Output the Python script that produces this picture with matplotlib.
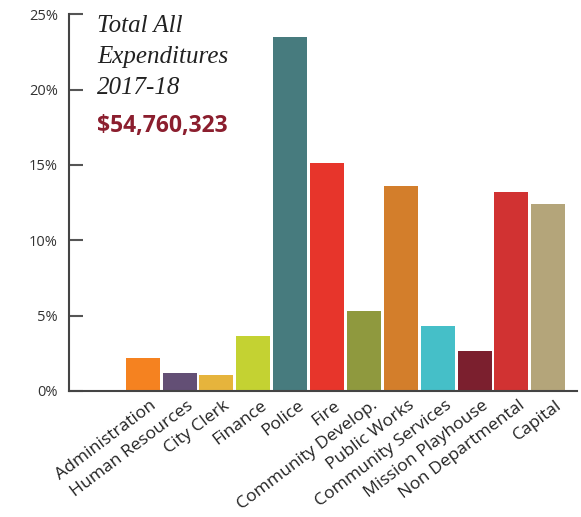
import matplotlib
matplotlib.use("Agg")
import matplotlib.pyplot as plt
import matplotlib.transforms as mtransforms

categories = ["Administration", "Human Resources", "City Clerk", "Finance", "Police",
              "Fire", "Community Develop.", "Public Works", "Community Services",
              "Mission Playhouse", "Non Departmental", "Capital"]
values = [2.19, 1.19, 1.06, 3.65, 23.5, 15.13, 5.3, 13.6, 4.31, 2.65, 13.2, 12.4]
colors = ["#F58220", "#634F75", "#E6B43C", "#C4D232", "#477B7E", "#E7352B",
          "#8F993E", "#D37E2B", "#45BFC8", "#7B1F2E", "#D13232", "#B4A57A"]
yticks = [0, 5, 10, 15, 20, 25]
ytick_labels = ["0%", "5%", "10%", "15%", "20%", "25%"]
title_lines = ["Total All", "Expenditures", "2017-18"]
total_text = "$54,760,323"

W, H = 581, 517
fig = plt.figure(figsize=(W / 100, H / 100), dpi=100)
ax = fig.add_axes([69 / W, 1 - 391 / H, (577 - 69) / W, (391 - 14.3) / H])

x = list(range(len(categories)))
ax.bar(x, values, width=0.923, color=colors, zorder=2)
ax.set_xlim(-2.0, 11.78)
ax.set_ylim(0, 25)

ax.set_yticks(yticks)
ax.set_yticklabels(ytick_labels, fontsize=10.5, color="#333333", family="Open Sans")
ax.set_xticks(x)
ax.set_xticklabels(categories, rotation=37, ha="right", rotation_mode="anchor",
                   fontsize=12.6, color="#222222", family="Open Sans")
ax.tick_params(axis="y", direction="in", length=10, width=1.5, color="#555555", pad=8)
ax.tick_params(axis="x", length=0, pad=4)

offset = mtransforms.ScaledTranslation(7 / 100, -1 / 100, fig.dpi_scale_trans)
for lbl in ax.get_xticklabels():
    lbl.set_transform(lbl.get_transform() + offset)

for s in ["top", "right"]:
    ax.spines[s].set_visible(False)
for s in ["left", "bottom"]:
    ax.spines[s].set_color("#444444")
    ax.spines[s].set_linewidth(1.5)

for i, line in enumerate(title_lines):
    fig.text(97 / W, 1 - (26 + 31 * i) / H, line, fontsize=18, style="italic",
             family="Liberation Serif", color="#222222", va="center", ha="left")
fig.text(97 / W, 1 - 126 / H, total_text, fontsize=16.5, fontweight="bold",
         family="Open Sans", color="#8B1E2E", va="center", ha="left")

fig.savefig("out.png", dpi=100)
